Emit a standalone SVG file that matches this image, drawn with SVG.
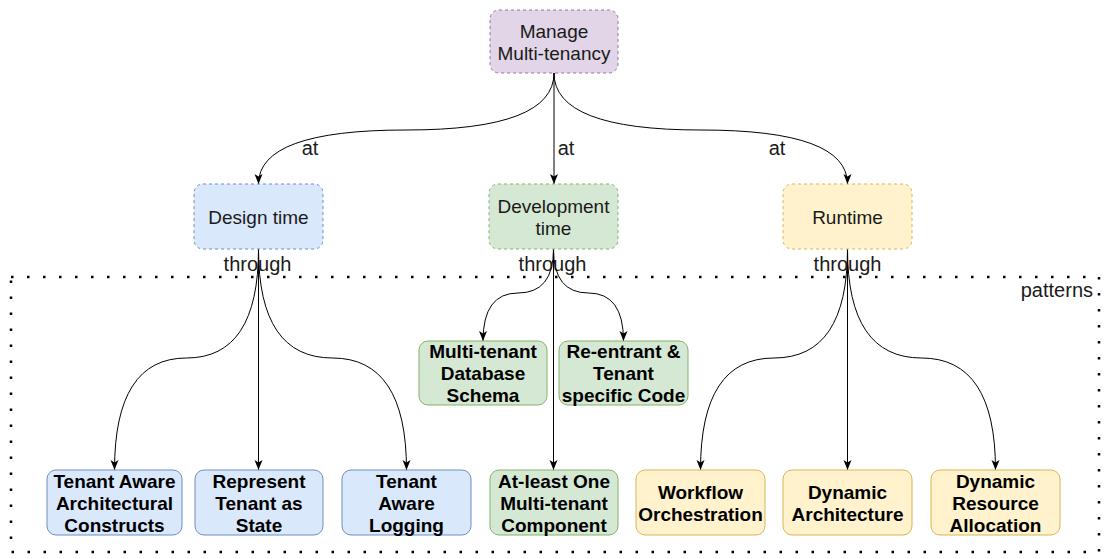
<svg xmlns="http://www.w3.org/2000/svg" width="1104" height="559" viewBox="0 0 1104 559">
  <defs>
    <marker id="arrow" viewBox="0 0 10 10" refX="10" refY="5" markerWidth="10" markerHeight="10" markerUnits="userSpaceOnUse" orient="auto">
      <path d="M0,1 L10,5 L0,9 L2.5,5 z" fill="#000"/>
    </marker>
    <style>
      .node rect { stroke-width: 1; }
      .dashed { stroke-dasharray: 3 3; }
      .purple { fill: #e1d5e7; stroke: #9673a6; }
      .blue { fill: #dae8fc; stroke: #6c8ebf; }
      .green { fill: #d5e8d4; stroke: #82b366; }
      .yellow { fill: #fff2cc; stroke: #d6b656; }
      text { font-family: "Liberation Sans", Arial, Helvetica, sans-serif; }
      .t { font-size: 19px; fill: #1a1a1a; text-anchor: middle; }
      .b { font-size: 19px; font-weight: bold; fill: #000; text-anchor: middle; }
      .lbl { font-size: 20px; fill: #1a1a1a; text-anchor: middle; }
      .edge { fill: none; stroke: #000; stroke-width: 1; marker-end: url(#arrow); }
    </style>
  </defs>

  <rect width="1104" height="559" fill="#fff"/>

  <!-- patterns container -->
  <g id="patterns">
    <rect x="11" y="277" width="1088" height="275" fill="none" stroke="#000" stroke-width="2.5" stroke-dasharray="2.5 13.5"/>
    <text class="lbl" x="1093" y="297" style="text-anchor:end">patterns</text>
  </g>

  <!-- connectors -->
  <g id="connectors">
    <path class="edge" d="M554,73 Q554,130 406,130 Q258.5,130 258.5,184"/>
    <path class="edge" d="M554,73 L554,184"/>
    <path class="edge" d="M554,73 Q554,130 701,130 Q847.5,130 847.5,184"/>

    <path class="edge" d="M258.5,249 Q258.5,358 186.5,358 Q114.5,358 114.5,470"/>
    <path class="edge" d="M258.5,249 L258.5,470"/>
    <path class="edge" d="M258.5,249 Q258.5,358 332.5,358 Q406.5,358 406.5,470"/>

    <path class="edge" d="M553.5,249 Q553.5,293 518,293 Q483,293 483,341"/>
    <path class="edge" d="M553.5,249 L553.5,470"/>
    <path class="edge" d="M553.5,249 Q553.5,293 588.5,293 Q623.5,293 623.5,341"/>

    <path class="edge" d="M847.5,249 Q847.5,358 774,358 Q700.5,358 700.5,470"/>
    <path class="edge" d="M847.5,249 L847.5,470"/>
    <path class="edge" d="M847.5,249 Q847.5,358 921.5,358 Q995.5,358 995.5,470"/>

    <text class="lbl" x="310" y="155">at</text>
    <text class="lbl" x="566" y="155">at</text>
    <text class="lbl" x="777" y="155">at</text>
    <text class="lbl" x="257.5" y="271">through</text>
    <text class="lbl" x="552.5" y="271">through</text>
    <text class="lbl" x="847.5" y="271">through</text>
  </g>

  <!-- top level -->
  <g id="manage" class="node">
    <rect class="purple dashed" x="490" y="10" width="128" height="63" rx="9"/>
    <text class="t" x="554" y="38">Manage</text>
    <text class="t" x="554" y="60">Multi-tenancy</text>
  </g>

  <!-- phases -->
  <g id="design-time" class="node">
    <rect class="blue dashed" x="194" y="184" width="129" height="65" rx="9"/>
    <text class="t" x="258.5" y="223.5">Design time</text>
  </g>
  <g id="development-time" class="node">
    <rect class="green dashed" x="489" y="184" width="129" height="65" rx="9"/>
    <text class="t" x="553.5" y="212.5">Development</text>
    <text class="t" x="553.5" y="234.5">time</text>
  </g>
  <g id="runtime" class="node">
    <rect class="yellow dashed" x="783" y="184" width="129" height="65" rx="9"/>
    <text class="t" x="847.5" y="223.5">Runtime</text>
  </g>

  <!-- development-time patterns (upper row) -->
  <g id="multitenant-db-schema" class="node">
    <rect class="green" x="419" y="341" width="128" height="64" rx="9"/>
    <text class="b" x="483" y="358">Multi-tenant</text>
    <text class="b" x="483" y="380">Database</text>
    <text class="b" x="483" y="402">Schema</text>
  </g>
  <g id="reentrant-code" class="node">
    <rect class="green" x="559" y="341" width="129" height="64" rx="9"/>
    <text class="b" x="623.5" y="358">Re-entrant &amp;</text>
    <text class="b" x="623.5" y="380">Tenant</text>
    <text class="b" x="623.5" y="402">specific Code</text>
  </g>

  <!-- patterns (bottom row) -->
  <g id="tenant-aware-constructs" class="node">
    <rect class="blue" x="47" y="470" width="135" height="65" rx="9"/>
    <text class="b" x="114.5" y="487.5">Tenant Aware</text>
    <text class="b" x="114.5" y="509.5">Architectural</text>
    <text class="b" x="114.5" y="531.5">Constructs</text>
  </g>
  <g id="tenant-as-state" class="node">
    <rect class="blue" x="195" y="470" width="128" height="65" rx="9"/>
    <text class="b" x="259" y="487.5">Represent</text>
    <text class="b" x="259" y="509.5">Tenant as</text>
    <text class="b" x="259" y="531.5">State</text>
  </g>
  <g id="tenant-aware-logging" class="node">
    <rect class="blue" x="342" y="470" width="129" height="65" rx="9"/>
    <text class="b" x="406.5" y="487.5">Tenant</text>
    <text class="b" x="406.5" y="509.5">Aware</text>
    <text class="b" x="406.5" y="531.5">Logging</text>
  </g>
  <g id="multitenant-component" class="node">
    <rect class="green" x="490" y="470" width="128" height="65" rx="9"/>
    <text class="b" x="554" y="487.5">At-least One</text>
    <text class="b" x="554" y="509.5">Multi-tenant</text>
    <text class="b" x="554" y="531.5">Component</text>
  </g>
  <g id="workflow-orchestration" class="node">
    <rect class="yellow" x="636" y="470" width="129" height="65" rx="9"/>
    <text class="b" x="700.5" y="498.5">Workflow</text>
    <text class="b" x="700.5" y="520.5">Orchestration</text>
  </g>
  <g id="dynamic-architecture" class="node">
    <rect class="yellow" x="783" y="470" width="129" height="65" rx="9"/>
    <text class="b" x="847.5" y="498.5">Dynamic</text>
    <text class="b" x="847.5" y="520.5">Architecture</text>
  </g>
  <g id="dynamic-resource-allocation" class="node">
    <rect class="yellow" x="931" y="470" width="129" height="65" rx="9"/>
    <text class="b" x="995.5" y="487.5">Dynamic</text>
    <text class="b" x="995.5" y="509.5">Resource</text>
    <text class="b" x="995.5" y="531.5">Allocation</text>
  </g>
</svg>
